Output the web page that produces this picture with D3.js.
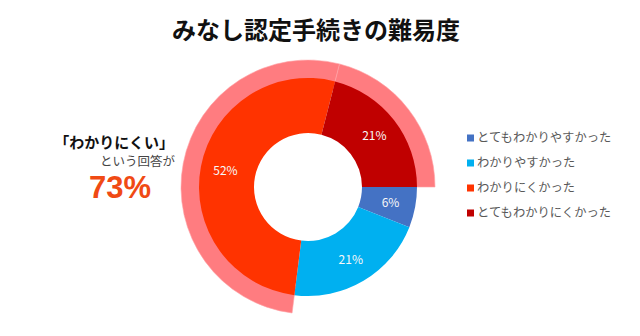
<!DOCTYPE html>
<html><head><meta charset="utf-8">
<script src="https://cdn.jsdelivr.net/npm/d3@7"></script>
<style>body{margin:0;background:#fff}svg{display:block}</style>
</head><body>
<svg id="c" width="640" height="336"></svg>
<script>
const categories = ["とてもわかりやすかった","わかりやすかった","わかりにくかった","とてもわかりにくかった"];
const values = [6, 21, 52, 21];
const colors = ["#4472C4","#00B0F0","#FF3300","#C00000"];
const highlighted = [false, false, true, true];
const title = "みなし認定手続きの難易度";
const font = "'Noto Sans CJK JP','Noto Sans',sans-serif";

const svg = d3.select("#c");
const cx = 308, cy = 187;
const startA = Math.PI / 2;

const pie = d3.pie().sort(null).value(d => d).startAngle(startA).endAngle(startA + 2*Math.PI);
const arcs = pie(values);

// highlight ring for "わかりにくい" answers
const hArc = d3.arc().innerRadius(100).outerRadius(127);
svg.append("g").attr("transform", `translate(${cx},${cy})`)
  .selectAll("path").data(arcs.filter((d,i) => highlighted[i])).join("path")
  .attr("d", hArc).attr("fill", "#FF7C80").attr("stroke", "#FFA3A6").attr("stroke-width", 0.6);

// main donut
const arc = d3.arc().innerRadius(54).outerRadius(109);
const g = svg.append("g").attr("transform", `translate(${cx},${cy})`);
g.selectAll("path").data(arcs).join("path")
  .attr("d", arc).attr("fill", (d,i) => colors[i]);

const labelArc = d3.arc().innerRadius(84).outerRadius(84);
g.selectAll("text").data(arcs).join("text")
  .attr("transform", d => `translate(${labelArc.centroid(d)})`)
  .attr("text-anchor", "middle").attr("dy", "0.35em")
  .attr("font-family", font).attr("font-size", 12).attr("fill", "#f8f8f8")
  .text(d => d.data + "%");

// title
svg.append("text").attr("x", 316).attr("y", 39).attr("text-anchor", "middle")
  .attr("font-family", font).attr("font-weight", "bold").attr("font-size", 24).attr("fill", "#111")
  .text(title);

// left annotation
svg.append("text").attr("x", 174).attr("y", 148).attr("text-anchor", "end")
  .attr("font-family", font).attr("font-weight", "bold").attr("font-size", 15).attr("fill", "#111")
  .text("「わかりにくい」");
svg.append("text").attr("x", 175).attr("y", 166).attr("text-anchor", "end")
  .attr("font-family", font).attr("font-size", 12.5).attr("fill", "#444")
  .text("という回答が");
svg.append("text").attr("x", 120).attr("y", 198).attr("text-anchor", "middle")
  .attr("font-family", "'Liberation Sans',Arial,sans-serif").attr("font-weight", "bold").attr("font-size", 31).attr("fill", "#F04A14")
  .text("73%");

// legend
const lg = svg.append("g");
const ly = d3.scalePoint().domain(categories).range([138, 213]);
lg.selectAll("rect").data(categories).join("rect")
  .attr("x", 467).attr("y", d => ly(d) - 3.5).attr("width", 7).attr("height", 7)
  .attr("fill", (d,i) => colors[i]);
lg.selectAll("text").data(categories).join("text")
  .attr("x", 477).attr("y", d => ly(d)).attr("dy", "0.35em")
  .attr("font-family", font).attr("font-size", 12.3).attr("fill", "#595959")
  .text(d => d);
</script>
</body></html>
